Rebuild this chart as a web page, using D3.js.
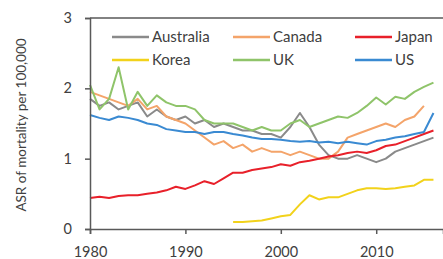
<!DOCTYPE html>
<html>
<head>
<meta charset="utf-8">
<script src="https://d3js.org/d3.v7.min.js"></script>
<style>
  body { margin: 0; background: #fff; }
  text { font-family: Lato, "Open Sans", sans-serif; fill: #404040; }
</style>
</head>
<body>
<div id="graph"></div>
<script>
// values
const years = d3.range(1980, 2017);
const koreaYears = d3.range(1995, 2017);
const canadaYears = d3.range(1980, 2016);

const australia = [1.85, 1.75, 1.8, 1.7, 1.75, 1.8, 1.6, 1.7, 1.6, 1.55, 1.6, 1.5, 1.55, 1.45, 1.5, 1.45, 1.4, 1.4, 1.35, 1.35,
                   1.3, 1.45, 1.65, 1.45, 1.2, 1.05, 1.0, 1.0, 1.05, 1.0, 0.95, 1.0, 1.1, 1.15, 1.2, 1.25, 1.3];
const canada = [1.95, 1.9, 1.85, 1.8, 1.75, 1.85, 1.7, 1.75, 1.6, 1.55, 1.5, 1.4, 1.3, 1.2, 1.25, 1.15, 1.2, 1.1, 1.15, 1.1,
                1.1, 1.05, 1.1, 1.05, 1.0, 1.0, 1.1, 1.3, 1.35, 1.4, 1.45, 1.5, 1.45, 1.55, 1.6, 1.75];
const japan = [0.44, 0.46, 0.44, 0.47, 0.48, 0.48, 0.5, 0.52, 0.55, 0.6, 0.57, 0.62, 0.68, 0.64, 0.72, 0.8, 0.8, 0.84, 0.86, 0.88,
               0.92, 0.9, 0.95, 0.97, 1.0, 1.03, 1.05, 1.08, 1.1, 1.08, 1.12, 1.18, 1.2, 1.25, 1.3, 1.35, 1.4];
const korea = [0.1, 0.1, 0.11, 0.12, 0.15, 0.18, 0.2, 0.35, 0.48, 0.42, 0.45, 0.45, 0.5, 0.55, 0.58, 0.58, 0.57, 0.58, 0.6, 0.62, 0.7, 0.7];
const uk = [2.05, 1.7, 1.85, 2.3, 1.7, 1.95, 1.75, 1.9, 1.8, 1.75, 1.75, 1.7, 1.55, 1.5, 1.5, 1.5, 1.45, 1.4, 1.45, 1.4,
            1.4, 1.5, 1.55, 1.45, 1.5, 1.55, 1.6, 1.58, 1.65, 1.75, 1.87, 1.77, 1.88, 1.85, 1.95, 2.02, 2.08];
const us = [1.62, 1.58, 1.55, 1.6, 1.58, 1.55, 1.5, 1.48, 1.42, 1.4, 1.38, 1.38, 1.35, 1.38, 1.38, 1.35, 1.33, 1.3, 1.28, 1.28,
            1.27, 1.25, 1.24, 1.25, 1.23, 1.24, 1.22, 1.24, 1.22, 1.2, 1.25, 1.27, 1.3, 1.32, 1.35, 1.38, 1.65];

const names = ["Australia", "Canada", "Japan", "Korea", "UK", "US"];
const yTicks = [0, 1, 2, 3];
const xTicks = [1980, 1990, 2000, 2010];

const series = [
    {name: "Australia", x: years, v: australia},
    {name: "Canada", x: canadaYears, v: canada},
    {name: "Korea", x: koreaYears, v: korea},
    {name: "UK", x: years, v: uk},
    {name: "Japan", x: years, v: japan},
    {name: "US", x: years, v: us}
];

const color = d3.scaleOrdinal()
    .domain(names)
    .range(["#8a8a8a", "#f4a46a", "#e8202a", "#f2d21b", "#8fc46a", "#3a8ad2"]);

const width = 443, height = 259;
const margin = {top: 18, right: 0, bottom: 30, left: 90};

const svg = d3.select("#graph")
    .append("svg")
    .attr("width", width)
    .attr("height", height);

const x = d3.scaleLinear()
    .domain([1980, 2017])
    .range([margin.left, width - margin.right]);

const y = d3.scaleLinear()
    .domain([0, 3])
    .range([height - margin.bottom, margin.top]);

// top border of plot
svg.append("line")
    .attr("x1", margin.left).attr("x2", width)
    .attr("y1", y(3)).attr("y2", y(3))
    .attr("stroke", "#595959").attr("stroke-width", 1.5);

// lines
const line = d3.line()
    .x(function(d) { return x(d[0]); })
    .y(function(d) { return y(d[1]); });

svg.append("g")
    .selectAll("path")
    .data(series)
    .enter()
    .append("path")
    .attr("d", function(s) { return line(s.x.map(function(yr, i) { return [yr, s.v[i]]; })); })
    .attr("fill", "none")
    .attr("stroke", function(s) { return color(s.name); })
    .attr("stroke-width", 2)
    .attr("stroke-linejoin", "round");

// axes
const yAxis = svg.append("g")
    .attr("transform", `translate(${margin.left},0)`)
    .call(d3.axisLeft(y).tickValues(yTicks).tickSize(5).tickPadding(13).tickFormat(d3.format("d")));

const xAxis = svg.append("g")
    .attr("transform", `translate(0,${y(0)})`)
    .call(d3.axisBottom(x).tickValues(xTicks).tickSize(5).tickPadding(13).tickFormat(d3.format("d")));

[yAxis, xAxis].forEach(function(a) {
    a.select(".domain").attr("stroke", "#595959").attr("stroke-width", 1.5);
    a.selectAll(".tick line").attr("stroke", "#595959").attr("stroke-width", 1.5);
    a.selectAll(".tick text").style("font-size", "14.5px").attr("fill", "#404040");
});

// y axis label
svg.append("text")
    .attr("transform", "translate(21,125) rotate(-90)")
    .attr("text-anchor", "middle")
    .attr("dy", "0.35em")
    .style("font-size", "13.5px")
    .text("ASR of mortality per 100,000");

// legend
const legendX = [112, 233, 355];
const legendY = [37, 60];
const legend = svg.append("g")
    .selectAll("g")
    .data(names)
    .enter()
    .append("g")
    .attr("transform", function(d, i) { return `translate(${legendX[i % 3]},${legendY[Math.floor(i / 3)]})`; });

legend.append("line")
    .attr("x1", 0).attr("x2", 37)
    .attr("stroke", function(d) { return color(d); })
    .attr("stroke-width", 2.5);

legend.append("text")
    .attr("x", 40)
    .attr("dy", "0.35em")
    .style("font-size", "15px")
    .text(function(d) { return d; });
</script>
</body>
</html>
